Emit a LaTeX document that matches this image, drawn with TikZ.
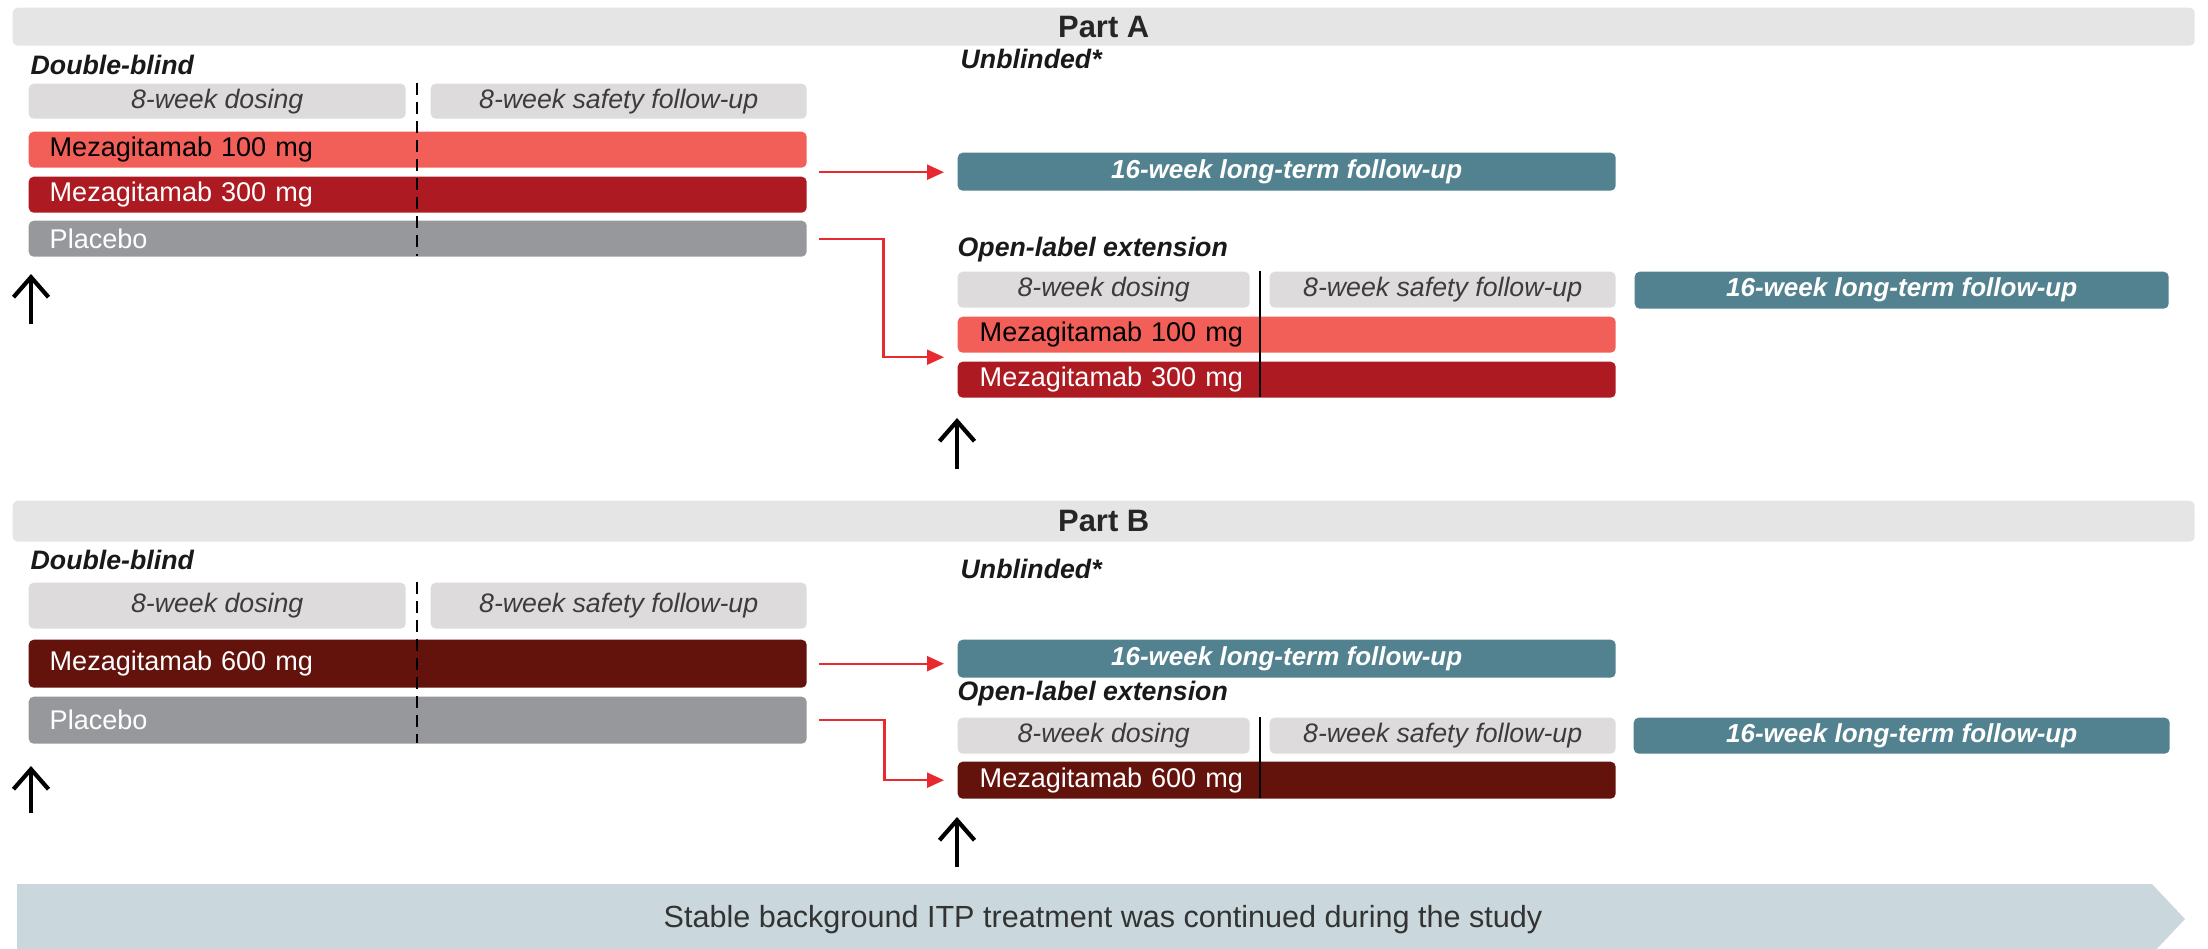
\documentclass[tikz,border=0pt]{standalone}
\usepackage{fontspec}
\setmainfont{Liberation Sans}
\usetikzlibrary{arrows.meta,calc}

\definecolor{hdrgray}{HTML}{E5E5E5}
\definecolor{phasegray}{HTML}{DDDBDC}
\definecolor{phasetext}{HTML}{3C3C3C}
\definecolor{dose100}{HTML}{F15F58}
\definecolor{dose300}{HTML}{AD1A21}
\definecolor{dose600}{HTML}{63120C}
\definecolor{placebo}{HTML}{97989C}
\definecolor{ltteal}{HTML}{52818F}
\definecolor{bandblue}{HTML}{CAD8DE}
\definecolor{arrowred}{HTML}{E62A2F}

\tikzset{
    parthdr/.style={fill=hdrgray, rounded corners=0.5mm, minimum width=218.2mm, minimum height=3.8mm,
        inner sep=0pt, anchor=north west, font=\fontsize{8.8}{10}\selectfont\bfseries, text=black!85},
    phaselabel/.style={anchor=west, inner sep=0pt, font=\fontsize{7.6}{9}\selectfont\bfseries\itshape, text=black!90},
    phasebox/.style={fill=phasegray, rounded corners=0.5mm, inner sep=0pt, anchor=north west,
        font=\fontsize{7.6}{9}\selectfont\itshape, text=phasetext},
    armbar/.style={rounded corners=0.5mm, inner ysep=0pt, inner xsep=2.1mm, align=left, anchor=north west,
        font=\fontsize{7.7}{9}\selectfont},
    ltbox/.style={fill=ltteal, rounded corners=0.5mm, inner sep=0pt, anchor=north west, text=white,
        font=\fontsize{7.4}{9}\selectfont\bfseries\itshape},
    redarrow/.style={draw=arrowred, line width=0.22mm, -{Triangle[length=1.7mm,width=1.5mm]},
        shorten <=1.2mm, shorten >=1.3mm},
    startarrow/.style={line width=0.42mm, -{Straight Barb[length=2mm,width=3.5mm]}},
    dbline/.style={line width=0.2mm, dash pattern=on 1.2mm off 0.7mm},
    oleline/.style={line width=0.12mm}
}

\begin{document}
\begin{tikzpicture}[x=0.1mm, y=-0.1mm]
        \useasboundingbox (0,0) rectangle (2208,949);

        % Part A
        \node[parthdr] (hdrA) at (12,7) {Part A};
        \node[phaselabel] (dbA) at (30,65) {Double-blind};
        \node[phasebox, minimum width=37.7mm, minimum height=3.5mm] (doseA) at (28,83) {8-week dosing};
        \node[phasebox, minimum width=37.6mm, minimum height=3.5mm] (safeA) at (430,83) {8-week safety follow-up};
        \node[armbar, fill=dose100, text width=73.6mm, minimum height=3.6mm] (m100A) at (28,131) {Mezagitamab 100 mg};
        \node[armbar, fill=dose300, text=white, text width=73.6mm, minimum height=3.6mm] (m300A) at (28,176) {Mezagitamab 300 mg};
        \node[armbar, fill=placebo, text=white, text width=73.6mm, minimum height=3.6mm] (plcA) at (28,220) {Placebo};
        \draw[dbline] (417,83) -- (417,256);
        \draw[startarrow] (31,324) -- (31,274);

        \node[phaselabel] (ubA) at (960,59) {Unblinded*};
        \node[ltbox, minimum width=65.8mm, minimum height=3.8mm] (ltA) at (957,152) {16-week long-term follow-up};
        \node[phaselabel] (oleA) at (957,250) {Open-label extension};
        \node[phasebox, minimum width=29.2mm, minimum height=3.6mm] (doseOA) at (957,271) {8-week dosing};
        \node[phasebox, minimum width=34.6mm, minimum height=3.6mm] (safeOA) at (1269,271) {8-week safety follow-up};
        \node[ltbox, minimum width=53.4mm, minimum height=3.7mm] (ltOA) at (1634,271) {16-week long-term follow-up};
        \node[armbar, fill=dose100, inner xsep=2.2mm, text width=61.4mm, minimum height=3.6mm] (o100A) at (957,316) {Mezagitamab 100 mg};
        \node[armbar, fill=dose300, text=white, inner xsep=2.2mm, text width=61.4mm, minimum height=3.6mm] (o300A) at (957,361) {Mezagitamab 300 mg};
        \draw[oleline] (1260,271) -- (1260,397);
        \draw[startarrow] (957,469) -- (957,418);

        \coordinate (splitA) at ($(m100A.south east)!0.5!(m300A.north east)$);
        \coordinate (joinA) at ($(o100A.south west)!0.5!(o300A.north west)$);
        \draw[redarrow] (splitA) -- (splitA -| ltA.west);
        \draw[redarrow] (plcA.east) -- ++(7.6mm,0) |- (joinA);

        % Part B
        \node[parthdr, minimum height=4.1mm] (hdrB) at (12,500) {Part B};
        \node[phaselabel] (dbB) at (30,560) {Double-blind};
        \node[phasebox, minimum width=37.7mm, minimum height=4.6mm] (doseB) at (28,582) {8-week dosing};
        \node[phasebox, minimum width=37.6mm, minimum height=4.6mm] (safeB) at (430,582) {8-week safety follow-up};
        \node[armbar, fill=dose600, text=white, text width=73.6mm, minimum height=4.8mm] (m600B) at (28,639) {Mezagitamab 600 mg};
        \node[armbar, fill=placebo, text=white, text width=73.6mm, minimum height=4.7mm] (plcB) at (28,696) {Placebo};
        \draw[dbline] (417,582) -- (417,743);
        \draw[startarrow] (31,813) -- (31,766);

        \node[phaselabel] (ubB) at (960,569) {Unblinded*};
        \node[ltbox, minimum width=65.8mm, minimum height=3.8mm] (ltB) at (957,639) {16-week long-term follow-up};
        \node[phaselabel] (oleB) at (957,694) {Open-label extension};
        \node[phasebox, minimum width=29.2mm, minimum height=3.6mm] (doseOB) at (957,717) {8-week dosing};
        \node[phasebox, minimum width=34.6mm, minimum height=3.6mm] (safeOB) at (1269,717) {8-week safety follow-up};
        \node[ltbox, minimum width=53.6mm, minimum height=3.6mm] (ltOB) at (1633,717) {16-week long-term follow-up};
        \node[armbar, fill=dose600, text=white, inner xsep=2.2mm, text width=61.4mm, minimum height=3.7mm] (o600B) at (957,761) {Mezagitamab 600 mg};
        \draw[oleline] (1260,717) -- (1260,798);
        \draw[startarrow] (957,867) -- (957,817);

        \draw[redarrow] (m600B.east) -- (m600B.east -| ltB.west);
        \draw[redarrow] (plcB.east) -- ++(7.7mm,0) |- (o600B.west);

        % background treatment band
        \fill[bandblue] (17,884) -- (2152,884) -- (2185,919) -- (2152,954) -- (17,954) -- cycle;
        \node[font=\fontsize{8.7}{10}\selectfont, text=black!80] (itp) at (1103,920) {Stable background ITP treatment was continued during the study};
    \end{tikzpicture}
\end{document}
